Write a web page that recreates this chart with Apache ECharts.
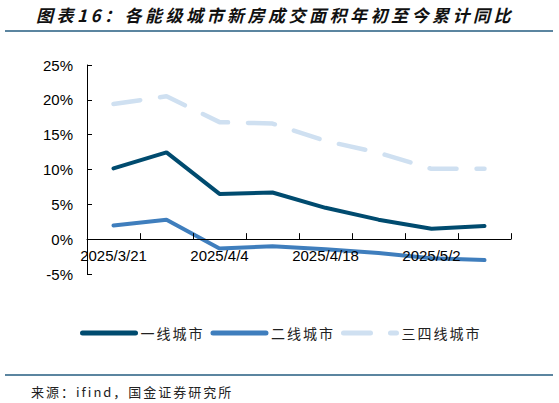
<!DOCTYPE html>
<html>
<head>
<meta charset="utf-8">
<script src="https://cdn.jsdelivr.net/npm/echarts@6/dist/echarts.min.js"></script>
<style>
  html, body { margin: 0; padding: 0; background: #fff; }
  #main { width: 559px; height: 403px; }
  #main text[style*="CJK"] { letter-spacing: 2px; }
  #main text[style*="italic"] { letter-spacing: 3.5px; }
</style>
</head>
<body>
<div id="main"></div>
<script>
// 周度日期
const dates = ['2025/3/21', '2025/3/28', '2025/4/4', '2025/4/11', '2025/4/18', '2025/4/25', '2025/5/2', '2025/5/9']
// 年初至今累计同比 (%)
const tier1 = [10.15, 12.45, 6.5, 6.7, 4.5, 2.8, 1.5, 1.9]
const tier2 = [1.95, 2.8, -1.35, -1.0, -1.45, -2.0, -2.75, -3.0]
const tier34 = [19.4, 20.5, 16.8, 16.6, 14.1, 12.4, 10.1, 10.1]
const seriesNames = ['一线城市', '二线城市', '三四线城市']

const cjk = '"Noto Sans CJK SC", sans-serif'
const latin = '"Liberation Sans", Arial, sans-serif'

const myChart = echarts.init(document.getElementById('main'), null, { renderer: 'svg' })

const option = {
  animation: false,
  title: {
    text: '图表16：各能级城市新房成交面积年初至今累计同比',
    left: 31,
    top: 1,
    textStyle: { fontFamily: cjk, fontSize: 17, fontWeight: 'bold', fontStyle: 'italic', color: '#111' }
  },
  graphic: [
    { type: 'line', shape: { x1: 5, y1: 31, x2: 553, y2: 31 }, style: { stroke: '#245d80', lineWidth: 1.5 } },
    { type: 'line', shape: { x1: 5, y1: 375, x2: 553, y2: 375 }, style: { stroke: '#245d80', lineWidth: 1.5 } },
    {
      type: 'text', left: 31, top: 385,
      style: { text: '来源：ifind，国金证券研究所', font: '13px ' + cjk, fill: '#222' }
    }
  ],
  legend: {
    data: seriesNames,
    left: 75,
    top: 321,
    itemWidth: 53,
    itemHeight: 10,
    itemGap: 14,
    itemStyle: { opacity: 0 },
    lineStyle: { width: 5 },
    textStyle: { fontFamily: cjk, fontSize: 14, color: '#222' }
  },
  grid: { left: 87, right: 48, top: 65, bottom: 129 },
  xAxis: {
    type: 'category',
    data: dates,
    z: 5,
    boundaryGap: true,
    axisLine: { onZero: true, lineStyle: { color: '#000', width: 1 } },
    axisTick: { show: true, inside: true, length: 6, interval: 0, lineStyle: { color: '#000' } },
    axisLabel: { interval: 1, margin: -26, fontFamily: latin, fontSize: 15, color: '#000' }
  },
  yAxis: {
    type: 'value',
    min: -5,
    max: 25,
    interval: 5,
    splitLine: { show: false },
    axisLine: { show: true, lineStyle: { color: '#000', width: 1 } },
    axisTick: { show: true, inside: true, length: 5, lineStyle: { color: '#000' } },
    axisLabel: { formatter: '{value}%', margin: 14, fontFamily: latin, fontSize: 15, color: '#000' }
  },
  series: [
    {
      name: seriesNames[0], type: 'line', data: tier1, symbol: 'none',
      itemStyle: { color: '#004b6f' },
      lineStyle: { color: '#004b6f', width: 4, cap: 'round' }
    },
    {
      name: seriesNames[1], type: 'line', data: tier2, symbol: 'none',
      itemStyle: { color: '#3f7ebd' },
      lineStyle: { color: '#3f7ebd', width: 4, cap: 'round' }
    },
    {
      name: seriesNames[2], type: 'line', data: tier34, symbol: 'none',
      itemStyle: { color: '#cfe0f1' },
      lineStyle: { color: '#cfe0f1', width: 4.5, type: [27, 20], cap: 'round' }
    }
  ]
}
myChart.setOption(option)
</script>
</body>
</html>
